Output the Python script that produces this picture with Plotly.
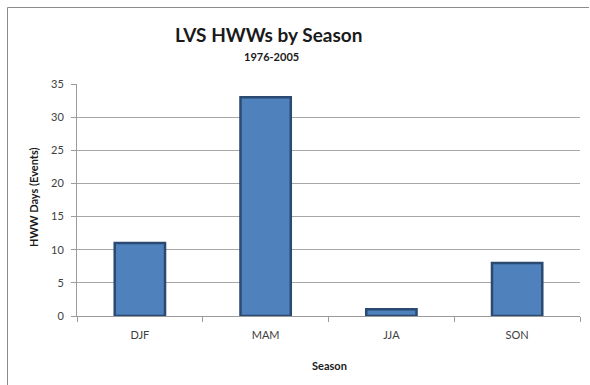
import plotly.graph_objects as go

seasons = ["DJF", "MAM", "JJA", "SON"]
hww_days = [11, 33, 1, 8]
y_ticks = [0, 5, 10, 15, 20, 25, 30, 35]

W, H = 590, 385
L, R, T, B = 77, 10, 84, 69
pw, ph = W - L - R, H - T - B

def px(x):
    return (x - L) / pw

def py(y):
    return (H - B - y) / ph

fig = go.Figure()
fig.add_trace(go.Bar(
    x=seasons, y=hww_days,
    width=0.4,
    marker=dict(color="#4F81BD", line=dict(color="#2A4A72", width=2.5)),
))

font_family = "Lato, 'Open Sans', sans-serif"
fig.update_layout(
    width=W, height=H,
    margin=dict(l=L, r=R, t=T, b=B),
    paper_bgcolor="white", plot_bgcolor="white",
    showlegend=False,
    font=dict(family=font_family, color="#404040", size=11),
    xaxis=dict(
        type="category", showgrid=False,
        showline=True, linecolor="#9a9a9a", linewidth=1,
        ticks="outside", tickson="boundaries", ticklen=5, tickcolor="#9a9a9a",
        ticklabelstandoff=9,
        tickfont=dict(size=11, color="#404040"),
    ),
    yaxis=dict(
        range=[0, 35], tickvals=y_ticks,
        showgrid=True, gridcolor="#a6a6a6", gridwidth=1,
        showline=True, linecolor="#9a9a9a", linewidth=1,
        ticks="outside", ticklen=5, tickcolor="#9a9a9a",
        ticklabelstandoff=5,
        zeroline=False,
        tickfont=dict(size=11, color="#404040"),
    ),
    shapes=[
        dict(type="line", xref="paper", yref="paper",
             x0=px(7.5), x1=px(589), y0=py(7.5), y1=py(7.5),
             line=dict(color="#8c8c8c", width=1), layer="below"),
        dict(type="line", xref="paper", yref="paper",
             x0=px(7.5), x1=px(7.5), y0=py(7.5), y1=py(385),
             line=dict(color="#8c8c8c", width=1), layer="below"),
    ],
    annotations=[
        dict(text="<b>LVS HWWs by Season</b>", xref="paper", yref="paper",
             x=px(268), y=py(35), showarrow=False, xanchor="center", yanchor="middle",
             font=dict(size=19, color="#1a1a1a", family=font_family)),
        dict(text="<b>1976-2005</b>", xref="paper", yref="paper",
             x=px(271), y=py(57), showarrow=False, xanchor="center", yanchor="middle",
             font=dict(size=11, color="#1a1a1a", family=font_family)),
        dict(text="<b>HWW Days (Events)</b>", xref="paper", yref="paper",
             x=px(33), y=py(197), showarrow=False, xanchor="center", yanchor="middle",
             textangle=-90, font=dict(size=11, color="#1a1a1a", family=font_family)),
        dict(text="<b>Season</b>", xref="paper", yref="paper",
             x=px(329), y=py(365), showarrow=False, xanchor="center", yanchor="middle",
             font=dict(size=11, color="#1a1a1a", family=font_family)),
    ],
)

fig.write_html("out.html", config={"displayModeBar": False},
               post_script="document.body.style.margin='0';document.body.style.overflow='hidden';")
